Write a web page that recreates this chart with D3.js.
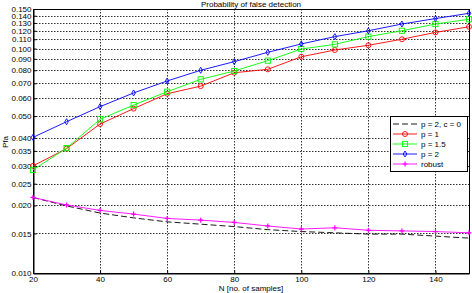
<!DOCTYPE html>
<html lang="en">
  <head>
    <meta charset="UTF-8" />
    <title>Probability of false detection</title>
    <script src="https://d3js.org/d3.v7.min.js"></script>
    <style>
      body { margin: 0; background: #fff; }
      text { font-family: "Liberation Sans", Arial, sans-serif; }
    </style>
  </head>
  <body>
    <div id="chart"></div>
    <script>
      // data
      var N = [20, 30, 40, 50, 60, 70, 80, 90, 100, 110, 120, 130, 140, 150];
      var pfaP2c0 = [0.0217, 0.0199, 0.0185, 0.0176, 0.0169, 0.0165, 0.0161, 0.0156, 0.0153, 0.0151, 0.0149, 0.0149, 0.0146, 0.0143];
      var pfaP1 = [0.0300, 0.0358, 0.0461, 0.0540, 0.0629, 0.0680, 0.0780, 0.0808, 0.0919, 0.0985, 0.1034, 0.1100, 0.1180, 0.1250];
      var pfaP15 = [0.0288, 0.0360, 0.0484, 0.0560, 0.0642, 0.0729, 0.0794, 0.0883, 0.0995, 0.1044, 0.1130, 0.1200, 0.1286, 0.1350];
      var pfaP2 = [0.0402, 0.0472, 0.0551, 0.0634, 0.0717, 0.0800, 0.0874, 0.0962, 0.1048, 0.1130, 0.1200, 0.1286, 0.1360, 0.1435];
      var pfaRobust = [0.0217, 0.0201, 0.0190, 0.0183, 0.0175, 0.0172, 0.0168, 0.0162, 0.0157, 0.0159, 0.0155, 0.0154, 0.0153, 0.0151];

      var xTicks = [20, 40, 60, 80, 100, 120, 140];
      var yTicks = [0.010, 0.015, 0.020, 0.025, 0.030, 0.035, 0.040, 0.050, 0.060, 0.070, 0.080, 0.090, 0.100, 0.110, 0.120, 0.130, 0.140, 0.150];
      var seriesNames = ["p = 2, c = 0", "p = 1", "p = 1.5", "p = 2", "robust"];

      var width = 472;
      var height = 293;
      var mLeft = 33, mRight = 469, mTop = 9, mBottom = 273;

      var series = [
        { name: seriesNames[0], values: pfaP2c0, color: "#000000", dash: "6,3", marker: "none" },
        { name: seriesNames[1], values: pfaP1, color: "#ff0000", dash: null, marker: "circle" },
        { name: seriesNames[2], values: pfaP15, color: "#00ff00", dash: null, marker: "square" },
        { name: seriesNames[3], values: pfaP2, color: "#0000ff", dash: null, marker: "diamond" },
        { name: seriesNames[4], values: pfaRobust, color: "#ff00ff", dash: null, marker: "plus" },
      ];

      var svg = d3
        .select("#chart")
        .append("svg")
        .attr("width", width)
        .attr("height", height);

      var x = d3.scaleLinear().domain([20, 150]).range([mLeft, mRight]);
      var y = d3.scaleLog().domain([0.01, 0.15]).range([mBottom, mTop]);

      // grid
      var grid = svg.append("g").attr("class", "grid");
      grid
        .selectAll("line.h")
        .data(yTicks.slice(1, -1))
        .enter()
        .append("line")
        .attr("x1", mLeft)
        .attr("x2", mRight)
        .attr("y1", function (d) { return Math.round(y(d)) + 0.5; })
        .attr("y2", function (d) { return Math.round(y(d)) + 0.5; })
        .attr("stroke", "#333")
        .attr("stroke-dasharray", "1.5,1.5");
      grid
        .selectAll("line.v")
        .data(xTicks.slice(1))
        .enter()
        .append("line")
        .attr("x1", function (d) { return Math.round(x(d)) + 0.5; })
        .attr("x2", function (d) { return Math.round(x(d)) + 0.5; })
        .attr("y1", mTop)
        .attr("y2", mBottom)
        .attr("stroke", "#333")
        .attr("stroke-dasharray", "1.5,1.5");

      // axes
      svg
        .append("g")
        .attr("transform", "translate(" + (mLeft + 0.5) + ",0)")
        .call(
          d3.axisLeft(y)
            .tickValues(yTicks)
            .tickFormat(d3.format(".3f"))
            .tickSizeInner(-3)
            .tickSizeOuter(0)
            .tickPadding(2)
        );
      svg
        .append("g")
        .attr("transform", "translate(0," + (mBottom + 0.5) + ")")
        .call(
          d3.axisBottom(x)
            .tickValues(xTicks)
            .tickFormat(d3.format("d"))
            .tickSizeInner(-3)
            .tickSizeOuter(0)
            .tickPadding(3)
        );
      svg.selectAll(".tick text").style("font-size", "8px").attr("fill", "#000");
      svg.selectAll(".domain").attr("stroke", "#000");

      // box
      svg
        .append("rect")
        .attr("x", mLeft + 0.5)
        .attr("y", mTop + 0.5)
        .attr("width", mRight - mLeft)
        .attr("height", mBottom - mTop)
        .attr("fill", "none")
        .attr("stroke", "#000");

      var line = d3
        .line()
        .x(function (d, i) { return x(N[i]); })
        .y(function (d) { return y(d); });

      function drawMarker(g, type, color, cx, cy) {
        if (type == "circle") {
          g.append("circle").attr("cx", cx).attr("cy", cy).attr("r", 2.5)
            .attr("fill", "none").attr("stroke", color).attr("stroke-width", 0.9);
        } else if (type == "square") {
          g.append("rect").attr("x", cx - 2.6).attr("y", cy - 2.6).attr("width", 5.2).attr("height", 5.2)
            .attr("fill", "none").attr("stroke", color).attr("stroke-width", 0.9);
        } else if (type == "diamond") {
          g.append("path")
            .attr("d", "M" + cx + "," + (cy - 3) + "L" + (cx + 1.8) + "," + cy + "L" + cx + "," + (cy + 3) + "L" + (cx - 1.8) + "," + cy + "Z")
            .attr("fill", "none").attr("stroke", color).attr("stroke-width", 0.9);
        } else if (type == "plus") {
          g.append("path")
            .attr("d", "M" + (cx - 2.5) + "," + cy + "H" + (cx + 2.5) + "M" + cx + "," + (cy - 2.5) + "V" + (cy + 2.5))
            .attr("fill", "none").attr("stroke", color).attr("stroke-width", 1.2);
        }
      }

      series.forEach(function (s) {
        svg
          .append("path")
          .datum(s.values)
          .attr("fill", "none")
          .attr("stroke", s.color)
          .attr("stroke-width", 0.9)
          .attr("stroke-dasharray", s.dash)
          .attr("d", line);
        var g = svg.append("g");
        s.values.forEach(function (v, i) {
          drawMarker(g, s.marker, s.color, x(N[i]), y(v));
        });
      });

      // legend
      var lg = svg.append("g").attr("transform", "translate(390,116)");
      lg.append("rect")
        .attr("x", 0.5)
        .attr("y", 0.5)
        .attr("width", 77)
        .attr("height", 55)
        .attr("fill", "#fff")
        .attr("stroke", "#000");
      series.forEach(function (s, i) {
        var ly = 8 + i * 10;
        lg.append("line")
          .attr("x1", 3)
          .attr("x2", 27)
          .attr("y1", ly)
          .attr("y2", ly)
          .attr("stroke", s.color)
          .attr("stroke-width", 0.9)
          .attr("stroke-dasharray", s.dash);
        drawMarker(lg, s.marker, s.color, 15, ly);
        lg.append("text")
          .attr("x", 31)
          .attr("y", ly + 3)
          .style("font-size", "8px")
          .text(s.name);
      });

      // labels
      svg
        .append("text")
        .attr("x", (mLeft + mRight) / 2)
        .attr("y", 7)
        .attr("text-anchor", "middle")
        .style("font-size", "8px")
        .text("Probability of false detection");
      svg
        .append("text")
        .attr("x", (mLeft + mRight) / 2)
        .attr("y", 291)
        .attr("text-anchor", "middle")
        .style("font-size", "8px")
        .text("N [no. of samples]");
      svg
        .append("text")
        .attr("transform", "translate(8,142) rotate(-90)")
        .attr("text-anchor", "middle")
        .style("font-size", "8px")
        .text("Pfa");
    </script>
  </body>
</html>
